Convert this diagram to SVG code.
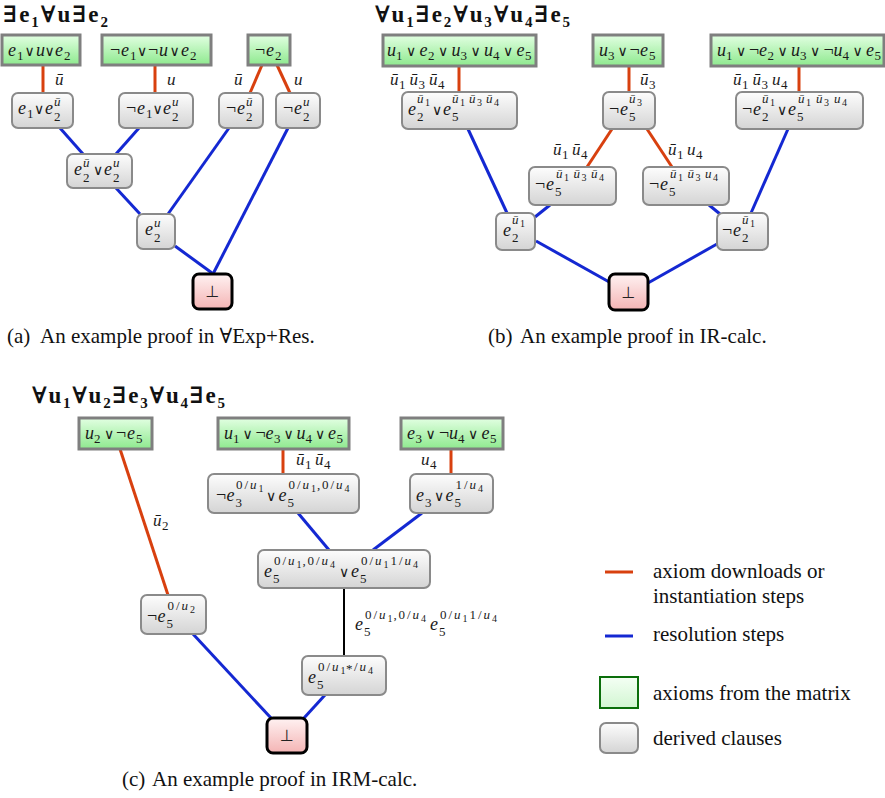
<svg xmlns="http://www.w3.org/2000/svg" width="885" height="798" viewBox="0 0 885 798">
<defs>
<linearGradient id="gG" x1="0" y1="0" x2="0" y2="1"><stop offset="0" stop-color="#e2ffe2"/><stop offset="1" stop-color="#8ee98e"/></linearGradient>
<linearGradient id="gD" x1="0" y1="0" x2="0" y2="1"><stop offset="0" stop-color="#fdfdfd"/><stop offset="1" stop-color="#d4d4d4"/></linearGradient>
<linearGradient id="gP" x1="0" y1="0" x2="0" y2="1"><stop offset="0" stop-color="#fff2f2"/><stop offset="1" stop-color="#f4b4b4"/></linearGradient>
<linearGradient id="gL" x1="0" y1="0" x2="0" y2="1"><stop offset="0" stop-color="#f4fff4"/><stop offset="1" stop-color="#d2f6d2"/></linearGradient>
<style>
.mi{font-family:"Liberation Serif","DejaVu Serif",serif;font-style:italic;font-size:18px;fill:#1a1a1a}
.lb{font-size:17px}
.o{font-family:"DejaVu Serif",serif;font-style:normal;font-size:14px;text-anchor:middle}
.n{font-style:normal}
.b{font-size:13px;font-style:normal}
.p{font-size:13px}
.q{font-size:13px;font-style:normal}
.r{font-size:10px;font-style:normal}
.bot{font-family:"DejaVu Sans",sans-serif;font-size:16px;text-anchor:middle;fill:#222}
.ttl{font-family:"Liberation Serif","DejaVu Serif",serif;font-weight:bold;font-size:23px;fill:#111}
.ts{font-size:15px}
.cap{font-family:"Liberation Serif","DejaVu Serif",serif;font-size:21px;fill:#111}
.ax{fill:url(#gG);stroke:#7f7f7f;stroke-width:3}
.dv{fill:url(#gD);stroke:#8a8a8a;stroke-width:2}
.bt{fill:url(#gP);stroke:#000;stroke-width:3}
.red{stroke:#d8400f;stroke-width:3;fill:none}
.blue{stroke:#1428d2;stroke-width:3;fill:none}
.blk{stroke:#000;stroke-width:2;fill:none}
</style>
</defs>
<rect width="885" height="798" fill="#fff"/>

<g id="connectors">
<line class="red" x1="43" y1="65" x2="43" y2="93"/>
<line class="red" x1="155" y1="65" x2="155" y2="93"/>
<line class="red" x1="262" y1="65" x2="250" y2="93"/>
<line class="red" x1="277" y1="65" x2="290" y2="93"/>
<line class="blue" x1="60" y1="128" x2="83" y2="154"/>
<line class="blue" x1="139" y1="128" x2="116" y2="154"/>
<line class="blue" x1="116" y1="188" x2="140" y2="214"/>
<line class="blue" x1="229" y1="128" x2="168" y2="214"/>
<line class="blue" x1="288" y1="128" x2="213" y2="274"/>
<line class="blue" x1="175" y1="246" x2="212" y2="273"/>

<line class="red" x1="459" y1="66" x2="459" y2="92"/>
<line class="red" x1="629" y1="66" x2="629" y2="92"/>
<line class="red" x1="799" y1="66" x2="799" y2="92"/>
<line class="red" x1="612" y1="129" x2="587" y2="167"/>
<line class="red" x1="647" y1="129" x2="672" y2="167"/>
<line class="blue" x1="468" y1="129" x2="507" y2="213"/>
<line class="blue" x1="550" y1="205" x2="535" y2="217"/>
<line class="blue" x1="709" y1="205" x2="720" y2="214"/>
<line class="blue" x1="788" y1="129" x2="751" y2="213"/>
<line class="blue" x1="536" y1="241" x2="611" y2="283"/>
<line class="blue" x1="717" y1="244" x2="648" y2="283"/>

<line class="red" x1="283" y1="449" x2="283" y2="474"/>
<line class="red" x1="451" y1="449" x2="451" y2="474"/>
<line class="red" x1="120" y1="449" x2="168" y2="595"/>
<line class="blue" x1="298" y1="513" x2="329" y2="550"/>
<line class="blue" x1="422" y1="513" x2="373" y2="550"/>
<line class="blue" x1="193" y1="634" x2="271" y2="718"/>
<line class="blue" x1="325" y1="695" x2="304" y2="718"/>
<line class="blk" x1="344" y1="588" x2="344" y2="656"/>
</g>

<g id="edge-labels">
<text class="mi lb"><tspan x="55" y="85">ū</tspan></text>
<text class="mi lb"><tspan x="167" y="85">u</tspan></text>
<text class="mi lb"><tspan x="234" y="85">ū</tspan></text>
<text class="mi lb"><tspan x="294" y="85">u</tspan></text>

<text class="mi lb"><tspan x="390" y="85">ū</tspan><tspan class="b" x="399" y="89">1</tspan><tspan x="409.5" y="85">ū</tspan><tspan class="b" x="418.5" y="89">3</tspan><tspan x="429" y="85">ū</tspan><tspan class="b" x="438" y="89">4</tspan></text>
<text class="mi lb"><tspan x="640" y="85">ū</tspan><tspan class="b" x="649" y="89">3</tspan></text>
<text class="mi lb"><tspan x="733" y="85">ū</tspan><tspan class="b" x="742" y="89">1</tspan><tspan x="752.5" y="85">ū</tspan><tspan class="b" x="761.5" y="89">3</tspan><tspan x="772" y="85">u</tspan><tspan class="b" x="781" y="89">4</tspan></text>
<text class="mi lb"><tspan x="553" y="155">ū</tspan><tspan class="b" x="562" y="159">1</tspan><tspan x="572" y="155">ū</tspan><tspan class="b" x="581" y="159">4</tspan></text>
<text class="mi lb"><tspan x="668" y="155">ū</tspan><tspan class="b" x="677" y="159">1</tspan><tspan x="687" y="155">u</tspan><tspan class="b" x="696" y="159">4</tspan></text>

<text class="mi lb"><tspan x="296" y="465">ū</tspan><tspan class="b" x="305" y="469">1</tspan><tspan x="315" y="465">ū</tspan><tspan class="b" x="324" y="469">4</tspan></text>
<text class="mi lb"><tspan x="421" y="465">u</tspan><tspan class="b" x="430" y="469">4</tspan></text>
<text class="mi lb"><tspan x="153" y="526">ū</tspan><tspan class="b" x="162" y="530">2</tspan></text>
<text class="mi"><tspan x="355" y="630">e</tspan><tspan class="b" x="364" y="636">5</tspan><tspan class="q" x="365" y="619">0</tspan><tspan class="q" x="373.5" y="619">/</tspan><tspan class="p" x="379" y="619">u</tspan><tspan class="r" x="387.5" y="622">1</tspan><tspan class="q" x="393.5" y="619">,</tspan><tspan class="q" x="398.5" y="619">0</tspan><tspan class="q" x="407" y="619">/</tspan><tspan class="p" x="412.5" y="619">u</tspan><tspan class="r" x="421" y="622">4</tspan><tspan x="430" y="630">e</tspan><tspan class="b" x="439" y="636">5</tspan><tspan class="q" x="440" y="619">0</tspan><tspan class="q" x="448.5" y="619">/</tspan><tspan class="p" x="454" y="619">u</tspan><tspan class="r" x="462.5" y="622">1</tspan><tspan class="q" x="469.5" y="619">1</tspan><tspan class="q" x="478" y="619">/</tspan><tspan class="p" x="483.5" y="619">u</tspan><tspan class="r" x="492" y="622">4</tspan></text>
</g>

<!-- Panel (a) -->
<text class="ttl" x="3" y="22" textLength="105" lengthAdjust="spacing">∃e<tspan class="ts" dy="5">1</tspan><tspan dy="-5">∀u∃e</tspan><tspan class="ts" dy="5">2</tspan></text>

<g id="a-ax1"><rect class="ax" x="2" y="35" width="78" height="30"/>
<text class="mi"><tspan x="8" y="56">e</tspan><tspan class="b" x="17" y="60">1</tspan><tspan class="o" x="29.5" y="56">∨</tspan><tspan x="36" y="56">u</tspan><tspan class="o" x="49.5" y="56">∨</tspan><tspan x="55" y="56">e</tspan><tspan class="b" x="64" y="60">2</tspan></text></g>
<g id="a-ax2"><rect class="ax" x="102" y="35" width="109" height="30"/>
<text class="mi"><tspan class="n" x="110" y="56">¬</tspan><tspan x="121" y="56">e</tspan><tspan class="b" x="130" y="60">1</tspan><tspan class="o" x="142" y="56">∨</tspan><tspan class="n" x="148" y="56">¬</tspan><tspan x="159" y="56">u</tspan><tspan class="o" x="174.5" y="56">∨</tspan><tspan x="181" y="56">e</tspan><tspan class="b" x="190" y="60">2</tspan></text></g>
<g id="a-ax3"><rect class="ax" x="248" y="35" width="42" height="30"/>
<text class="mi"><tspan class="n" x="255" y="56">¬</tspan><tspan x="266" y="56">e</tspan><tspan class="b" x="275" y="60">2</tspan></text></g>

<g id="a-d1"><rect class="dv" x="12" y="93" width="61" height="35" rx="6"/>
<text class="mi"><tspan x="18" y="114">e</tspan><tspan class="b" x="27" y="118">1</tspan><tspan class="o" x="39" y="114">∨</tspan><tspan x="45" y="114">e</tspan><tspan class="b" x="54" y="121">2</tspan><tspan class="p" x="54" y="106">ū</tspan></text></g>
<g id="a-d2"><rect class="dv" x="119" y="93" width="74" height="35" rx="6"/>
<text class="mi"><tspan class="n" x="126" y="114">¬</tspan><tspan x="137" y="114">e</tspan><tspan class="b" x="146" y="118">1</tspan><tspan class="o" x="157.5" y="114">∨</tspan><tspan x="163" y="114">e</tspan><tspan class="b" x="172" y="121">2</tspan><tspan class="p" x="172" y="106">u</tspan></text></g>
<g id="a-d3"><rect class="dv" x="219" y="93" width="44" height="35" rx="6"/>
<text class="mi"><tspan class="n" x="226" y="114">¬</tspan><tspan x="237" y="114">e</tspan><tspan class="b" x="246" y="121">2</tspan><tspan class="p" x="246" y="106">ū</tspan></text></g>
<g id="a-d4"><rect class="dv" x="276" y="93" width="44" height="35" rx="6"/>
<text class="mi"><tspan class="n" x="283" y="114">¬</tspan><tspan x="294" y="114">e</tspan><tspan class="b" x="303" y="121">2</tspan><tspan class="p" x="303" y="106">u</tspan></text></g>
<g id="a-d5"><rect class="dv" x="67" y="154" width="65" height="34" rx="6"/>
<text class="mi"><tspan x="74" y="175">e</tspan><tspan class="b" x="83" y="182">2</tspan><tspan class="p" x="83" y="167">ū</tspan><tspan class="o" x="98" y="175">∨</tspan><tspan x="104" y="175">e</tspan><tspan class="b" x="113" y="182">2</tspan><tspan class="p" x="113" y="167">u</tspan></text></g>
<g id="a-d6"><rect class="dv" x="137" y="214" width="38" height="35" rx="6"/>
<text class="mi"><tspan x="145" y="235">e</tspan><tspan class="b" x="154" y="242">2</tspan><tspan class="p" x="154" y="227">u</tspan></text></g>
<g id="a-bot"><rect class="bt" x="193" y="274" width="39" height="35" rx="6"/>
<text class="bot" x="212.5" y="297">⊥</text></g>

<text class="cap" x="7" y="343">(a)</text>
<text class="cap" x="40" y="343">An example proof in ∀Exp+Res.</text>

<!-- Panel (b) -->
<text class="ttl" x="375" y="22" textLength="195" lengthAdjust="spacing">∀u<tspan class="ts" dy="5">1</tspan><tspan dy="-5">∃e</tspan><tspan class="ts" dy="5">2</tspan><tspan dy="-5">∀u</tspan><tspan class="ts" dy="5">3</tspan><tspan dy="-5">∀u</tspan><tspan class="ts" dy="5">4</tspan><tspan dy="-5">∃e</tspan><tspan class="ts" dy="5">5</tspan></text>

<g id="b-ax1"><rect class="ax" x="383" y="35" width="153" height="31"/>
<text class="mi"><tspan x="387" y="56">u</tspan><tspan class="b" x="396" y="60">1</tspan><tspan class="o" x="411" y="56">∨</tspan><tspan x="419.5" y="56">e</tspan><tspan class="b" x="428" y="60">2</tspan><tspan class="o" x="443" y="56">∨</tspan><tspan x="451.5" y="56">u</tspan><tspan class="b" x="460.5" y="60">3</tspan><tspan class="o" x="475.5" y="56">∨</tspan><tspan x="484" y="56">u</tspan><tspan class="b" x="493" y="60">4</tspan><tspan class="o" x="508" y="56">∨</tspan><tspan x="516.5" y="56">e</tspan><tspan class="b" x="525" y="60">5</tspan></text></g>
<g id="b-ax2"><rect class="ax" x="593" y="35" width="70" height="31"/>
<text class="mi"><tspan x="599" y="56">u</tspan><tspan class="b" x="608" y="60">3</tspan><tspan class="o" x="622.5" y="56">∨</tspan><tspan class="n" x="629.5" y="56">¬</tspan><tspan x="640" y="56">e</tspan><tspan class="b" x="649" y="60">5</tspan></text></g>
<g id="b-ax3"><rect class="ax" x="711" y="35" width="173" height="31"/>
<text class="mi"><tspan x="717" y="56">u</tspan><tspan class="b" x="726" y="60">1</tspan><tspan class="o" x="741" y="56">∨</tspan><tspan class="n" x="749" y="56">¬</tspan><tspan x="759" y="56">e</tspan><tspan class="b" x="767.5" y="60">2</tspan><tspan class="o" x="782.5" y="56">∨</tspan><tspan x="791" y="56">u</tspan><tspan class="b" x="800" y="60">3</tspan><tspan class="o" x="815" y="56">∨</tspan><tspan class="n" x="823.5" y="56">¬</tspan><tspan x="833.5" y="56">u</tspan><tspan class="b" x="842.5" y="60">4</tspan><tspan class="o" x="857.5" y="56">∨</tspan><tspan x="866" y="56">e</tspan><tspan class="b" x="874.5" y="60">5</tspan></text></g>

<g id="b-d1"><rect class="dv" x="402" y="92" width="115" height="37" rx="6"/>
<text class="mi"><tspan x="408" y="115">e</tspan><tspan class="b" x="417" y="121">2</tspan><tspan class="p" x="417" y="103">ū</tspan><tspan class="r" x="425" y="106">1</tspan><tspan class="o" x="437" y="115">∨</tspan><tspan x="443" y="115">e</tspan><tspan class="b" x="452" y="121">5</tspan><tspan class="p" x="452" y="103">ū</tspan><tspan class="r" x="460" y="106">1</tspan><tspan class="p" x="469" y="103">ū</tspan><tspan class="r" x="477" y="106">3</tspan><tspan class="p" x="486" y="103">ū</tspan><tspan class="r" x="494" y="106">4</tspan></text></g>
<g id="b-d2"><rect class="dv" x="603" y="92" width="52" height="37" rx="6"/>
<text class="mi"><tspan class="n" x="609" y="115">¬</tspan><tspan x="620" y="115">e</tspan><tspan class="b" x="629" y="121">5</tspan><tspan class="p" x="629" y="103">ū</tspan><tspan class="r" x="637" y="106">3</tspan></text></g>
<g id="b-d3"><rect class="dv" x="736" y="92" width="127" height="37" rx="6"/>
<text class="mi"><tspan class="n" x="742" y="115">¬</tspan><tspan x="753" y="115">e</tspan><tspan class="b" x="762" y="121">2</tspan><tspan class="p" x="762" y="103">ū</tspan><tspan class="r" x="770" y="106">1</tspan><tspan class="o" x="782" y="115">∨</tspan><tspan x="788" y="115">e</tspan><tspan class="b" x="797" y="121">5</tspan><tspan class="p" x="798" y="103">ū</tspan><tspan class="r" x="806" y="106">1</tspan><tspan class="p" x="816" y="103">ū</tspan><tspan class="r" x="824" y="106">3</tspan><tspan class="p" x="834" y="103">u</tspan><tspan class="r" x="842" y="106">4</tspan></text></g>
<g id="b-d4"><rect class="dv" x="529" y="167" width="87" height="38" rx="6"/>
<text class="mi"><tspan class="n" x="535" y="190">¬</tspan><tspan x="546" y="190">e</tspan><tspan class="b" x="555" y="196">5</tspan><tspan class="p" x="556" y="178">ū</tspan><tspan class="r" x="564" y="181">1</tspan><tspan class="p" x="573.5" y="178">ū</tspan><tspan class="r" x="581.5" y="181">3</tspan><tspan class="p" x="591" y="178">ū</tspan><tspan class="r" x="599" y="181">4</tspan></text></g>
<g id="b-d5"><rect class="dv" x="643" y="167" width="86" height="38" rx="6"/>
<text class="mi"><tspan class="n" x="649" y="190">¬</tspan><tspan x="660" y="190">e</tspan><tspan class="b" x="669" y="196">5</tspan><tspan class="p" x="670" y="178">ū</tspan><tspan class="r" x="678" y="181">1</tspan><tspan class="p" x="687.5" y="178">ū</tspan><tspan class="r" x="695.5" y="181">3</tspan><tspan class="p" x="705" y="178">u</tspan><tspan class="r" x="713" y="181">4</tspan></text></g>
<g id="b-d6"><rect class="dv" x="496" y="213" width="39" height="37" rx="6"/>
<text class="mi"><tspan x="503" y="236">e</tspan><tspan class="b" x="512" y="242">2</tspan><tspan class="p" x="512" y="224">ū</tspan><tspan class="r" x="520" y="227">1</tspan></text></g>
<g id="b-d7"><rect class="dv" x="717" y="213" width="51" height="37" rx="6"/>
<text class="mi"><tspan class="n" x="722" y="236">¬</tspan><tspan x="733" y="236">e</tspan><tspan class="b" x="742" y="242">2</tspan><tspan class="p" x="742" y="224">ū</tspan><tspan class="r" x="750" y="227">1</tspan></text></g>
<g id="b-bot"><rect class="bt" x="609" y="274" width="39" height="36" rx="6"/>
<text class="bot" x="628.5" y="298">⊥</text></g>

<text class="cap" x="488" y="343">(b)</text>
<text class="cap" x="520" y="343">An example proof in IR-calc.</text>

<!-- Panel (c) -->
<text class="ttl" x="32" y="403" textLength="193" lengthAdjust="spacing">∀u<tspan class="ts" dy="5">1</tspan><tspan dy="-5">∀u</tspan><tspan class="ts" dy="5">2</tspan><tspan dy="-5">∃e</tspan><tspan class="ts" dy="5">3</tspan><tspan dy="-5">∀u</tspan><tspan class="ts" dy="5">4</tspan><tspan dy="-5">∃e</tspan><tspan class="ts" dy="5">5</tspan></text>

<g id="c-ax1"><rect class="ax" x="79" y="418" width="73" height="31"/>
<text class="mi"><tspan x="85" y="439">u</tspan><tspan class="b" x="94" y="443">2</tspan><tspan class="o" x="109" y="439">∨</tspan><tspan class="n" x="116" y="439">¬</tspan><tspan x="127" y="439">e</tspan><tspan class="b" x="136" y="443">5</tspan></text></g>
<g id="c-ax2"><rect class="ax" x="218" y="418" width="131" height="31"/>
<text class="mi"><tspan x="224" y="439">u</tspan><tspan class="b" x="233" y="443">1</tspan><tspan class="o" x="247.5" y="439">∨</tspan><tspan class="n" x="255.5" y="439">¬</tspan><tspan x="265.5" y="439">e</tspan><tspan class="b" x="274" y="443">3</tspan><tspan class="o" x="288.5" y="439">∨</tspan><tspan x="296.5" y="439">u</tspan><tspan class="b" x="305.5" y="443">4</tspan><tspan class="o" x="320" y="439">∨</tspan><tspan x="328" y="439">e</tspan><tspan class="b" x="336.5" y="443">5</tspan></text></g>
<g id="c-ax3"><rect class="ax" x="401" y="418" width="102" height="31"/>
<text class="mi"><tspan x="407" y="439">e</tspan><tspan class="b" x="415.5" y="443">3</tspan><tspan class="o" x="430.5" y="439">∨</tspan><tspan class="n" x="439" y="439">¬</tspan><tspan x="449" y="439">u</tspan><tspan class="b" x="458" y="443">4</tspan><tspan class="o" x="473" y="439">∨</tspan><tspan x="481.5" y="439">e</tspan><tspan class="b" x="490" y="443">5</tspan></text></g>

<g id="c-d1"><rect class="dv" x="208" y="474" width="151" height="39" rx="6"/>
<text class="mi"><tspan class="n" x="216" y="501">¬</tspan><tspan x="226.5" y="501">e</tspan><tspan class="b" x="235.5" y="507">3</tspan><tspan class="q" x="236" y="489">0</tspan><tspan class="q" x="244.5" y="489">/</tspan><tspan class="p" x="250" y="489">u</tspan><tspan class="r" x="258.5" y="492">1</tspan><tspan class="o" x="271" y="501">∨</tspan><tspan x="278.5" y="501">e</tspan><tspan class="b" x="287.5" y="507">5</tspan><tspan class="q" x="288.5" y="489">0</tspan><tspan class="q" x="297" y="489">/</tspan><tspan class="p" x="302.5" y="489">u</tspan><tspan class="r" x="311" y="492">1</tspan><tspan class="q" x="317" y="489">,</tspan><tspan class="q" x="322" y="489">0</tspan><tspan class="q" x="330.5" y="489">/</tspan><tspan class="p" x="336" y="489">u</tspan><tspan class="r" x="344.5" y="492">4</tspan></text></g>
<g id="c-d2"><rect class="dv" x="410" y="474" width="83" height="39" rx="6"/>
<text class="mi"><tspan x="416" y="501">e</tspan><tspan class="b" x="425" y="507">3</tspan><tspan class="o" x="439" y="501">∨</tspan><tspan x="445.5" y="501">e</tspan><tspan class="b" x="454.5" y="507">5</tspan><tspan class="q" x="455.5" y="489">1</tspan><tspan class="q" x="464" y="489">/</tspan><tspan class="p" x="469.5" y="489">u</tspan><tspan class="r" x="478" y="492">4</tspan></text></g>
<g id="c-d3"><rect class="dv" x="258" y="550" width="172" height="38" rx="6"/>
<text class="mi"><tspan x="264" y="577">e</tspan><tspan class="b" x="273" y="583">5</tspan><tspan class="q" x="274" y="565">0</tspan><tspan class="q" x="282.5" y="565">/</tspan><tspan class="p" x="288" y="565">u</tspan><tspan class="r" x="296.5" y="568">1</tspan><tspan class="q" x="302.5" y="565">,</tspan><tspan class="q" x="307.5" y="565">0</tspan><tspan class="q" x="316" y="565">/</tspan><tspan class="p" x="321.5" y="565">u</tspan><tspan class="r" x="330" y="568">4</tspan><tspan class="o" x="344" y="577">∨</tspan><tspan x="351" y="577">e</tspan><tspan class="b" x="360" y="583">5</tspan><tspan class="q" x="361" y="565">0</tspan><tspan class="q" x="369.5" y="565">/</tspan><tspan class="p" x="375" y="565">u</tspan><tspan class="r" x="383.5" y="568">1</tspan><tspan class="q" x="390.5" y="565">1</tspan><tspan class="q" x="399" y="565">/</tspan><tspan class="p" x="404.5" y="565">u</tspan><tspan class="r" x="413" y="568">4</tspan></text></g>
<g id="c-d4"><rect class="dv" x="141" y="595" width="65" height="39" rx="6"/>
<text class="mi"><tspan class="n" x="147" y="622">¬</tspan><tspan x="157.5" y="622">e</tspan><tspan class="b" x="166.5" y="628">5</tspan><tspan class="q" x="167.5" y="610">0</tspan><tspan class="q" x="176" y="610">/</tspan><tspan class="p" x="181.5" y="610">u</tspan><tspan class="r" x="190" y="613">2</tspan></text></g>
<g id="c-d5"><rect class="dv" x="302" y="656" width="84" height="39" rx="6"/>
<text class="mi"><tspan x="308" y="683">e</tspan><tspan class="b" x="317" y="689">5</tspan><tspan class="q" x="318" y="671">0</tspan><tspan class="q" x="326.5" y="671">/</tspan><tspan class="p" x="332" y="671">u</tspan><tspan class="r" x="340.5" y="674">1</tspan><tspan class="q" x="346" y="673">*</tspan><tspan class="q" x="354" y="671">/</tspan><tspan class="p" x="359.5" y="671">u</tspan><tspan class="r" x="368" y="674">4</tspan></text></g>
<g id="c-bot"><rect class="bt" x="267" y="718" width="40" height="35" rx="6"/>
<text class="bot" x="287" y="741">⊥</text></g>

<text class="cap" x="122" y="786">(c)</text>
<text class="cap" x="152" y="786">An example proof in IRM-calc.</text>

<!-- Legend -->
<g id="legend">
<line class="red" x1="605" y1="572" x2="633" y2="572"/>
<text class="cap" x="653" y="578">axiom downloads or</text>
<text class="cap" x="653" y="603">instantiation steps</text>
<line class="blue" x1="605" y1="636" x2="633" y2="636"/>
<text class="cap" x="653" y="641">resolution steps</text>
<rect x="600" y="677" width="38" height="31" fill="url(#gL)" stroke="#0b6e0b" stroke-width="2"/>
<text class="cap" x="653" y="700">axioms from the matrix</text>
<rect class="dv" x="600" y="723" width="38" height="30" rx="6"/>
<text class="cap" x="653" y="745">derived clauses</text>
</g>
</svg>
